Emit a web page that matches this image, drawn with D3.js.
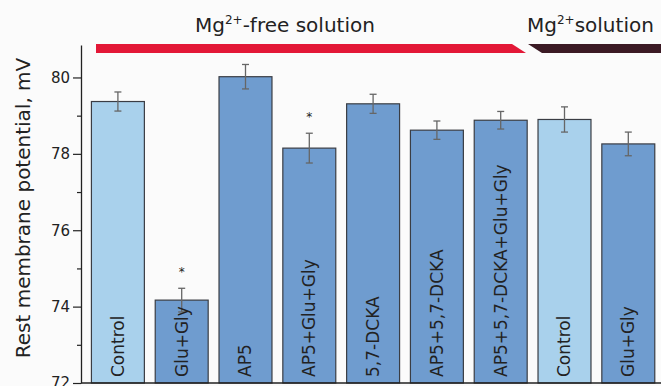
<!DOCTYPE html>
<html>
<head>
<meta charset="utf-8">
<script src="https://cdn.jsdelivr.net/npm/d3@7"></script>
<style>
    body { margin: 0; background: #fbfbfb; }
    svg { display: block; font-family: "DejaVu Sans", sans-serif; }
</style>
</head>
<body>
<div id="chart"></div>
<script>
const categories = ['Control', 'Glu+Gly', 'AP5', 'AP5+Glu+Gly', '5,7-DCKA', 'AP5+5,7-DCKA',
    'AP5+5,7-DCKA+Glu+Gly', 'Control', 'Glu+Gly'];
const values = [79.37, 74.17, 80.02, 78.15, 79.31, 78.62, 78.88, 78.90, 78.26];
const errors = [0.25, 0.31, 0.32, 0.39, 0.25, 0.24, 0.23, 0.33, 0.31];
const isControl = [true, false, false, false, false, false, false, true, false];
const significant = [false, true, false, true, false, false, false, false, false];
const yTicks = [72, 74, 76, 78, 80];
const yMinorTicks = [73, 75, 77, 79];

const width = 661, height = 386;
const margin = { top: 45, left: 81, bottom: 3 };

const svg = d3.select('#chart').append('svg')
    .attr('width', width)
    .attr('height', height);

const y = d3.scaleLinear()
    .domain([72, 80.85])
    .range([height - margin.bottom, margin.top]);

// band positions: first bar starts at 96, step ~63.8
const x = d3.scaleBand()
    .domain(d3.range(categories.length))
    .range([86, 86 + 63.8 * categories.length])
    .paddingInner(0.17)
    .paddingOuter(0.085);

// banner
const bannerTop = 44, bannerBot = 53;
svg.append('polygon')
    .attr('points', `96,${bannerTop} 512,${bannerTop} 526,${bannerBot} 96,${bannerBot}`)
    .attr('fill', '#e31837');
svg.append('polygon')
    .attr('points', `528,${bannerTop} ${width},${bannerTop} ${width},${bannerBot} 542,${bannerBot}`)
    .attr('fill', '#3b1a24');

function banner(xPos, rest) {
    const t = svg.append('text')
        .attr('x', xPos).attr('y', 32)
        .style('font-size', '20px').attr('fill', '#222');
    t.append('tspan').text('Mg');
    t.append('tspan').text('2+').attr('dy', -8).style('font-size', '12px');
    t.append('tspan').text(rest).attr('dy', 8);
}
banner(195, '-free solution');
banner(527, 'solution');

// bars
svg.selectAll('.bar')
    .data(values)
    .enter().append('rect')
    .attr('class', 'bar')
    .attr('x', (d, i) => x(i))
    .attr('y', d => y(d))
    .attr('width', x.bandwidth())
    .attr('height', d => y(72) - y(d))
    .attr('fill', (d, i) => isControl[i] ? '#a9d1ec' : '#6f9ccf')
    .attr('stroke', '#3a3d44')
    .attr('stroke-width', 1.2);

// error bars
const err = svg.selectAll('.err')
    .data(values)
    .enter().append('g')
    .attr('class', 'err')
    .attr('stroke', '#666')
    .attr('stroke-width', 1.3);
err.append('line')
    .attr('x1', (d, i) => x(i) + x.bandwidth() / 2)
    .attr('x2', (d, i) => x(i) + x.bandwidth() / 2)
    .attr('y1', (d, i) => y(d + errors[i]))
    .attr('y2', (d, i) => y(d - errors[i]));
[1, -1].forEach(s => {
    err.append('line')
        .attr('x1', (d, i) => x(i) + x.bandwidth() / 2 - 3.5)
        .attr('x2', (d, i) => x(i) + x.bandwidth() / 2 + 3.5)
        .attr('y1', (d, i) => y(d + s * errors[i]))
        .attr('y2', (d, i) => y(d + s * errors[i]));
});

// significance stars
const starIdx = d3.range(values.length).filter(i => significant[i]);
svg.selectAll('.star')
    .data(starIdx)
    .enter().append('text')
    .attr('class', 'star')
    .attr('x', i => x(i) + x.bandwidth() / 2)
    .attr('y', i => y(values[i] + errors[i]) - 12)
    .attr('text-anchor', 'middle')
    .style('font-size', '12px')
    .attr('fill', '#222')
    .text('*');

// bar labels
svg.selectAll('.bar-label')
    .data(categories)
    .enter().append('text')
    .attr('class', 'bar-label')
    .attr('transform', (d, i) => `translate(${x(i) + x.bandwidth() / 2},377) rotate(-90)`)
    .attr('dy', '0.35em')
    .style('font-size', '17px')
    .attr('fill', '#222')
    .text(d => d);

// y axis
const yAxis = d3.axisLeft(y)
    .tickValues(yTicks)
    .tickSize(8)
    .tickSizeOuter(0)
    .tickPadding(3);
const yAxisG = svg.append('g')
    .attr('transform', `translate(${margin.left},0)`)
    .call(yAxis);
yAxisG.selectAll('text').style('font-size', '15px').style('font-family', '"DejaVu Sans", sans-serif').attr('fill', '#222');
yAxisG.select('.domain').attr('stroke', '#222').attr('stroke-width', 1.3);
yAxisG.selectAll('.tick line').attr('stroke', '#222').attr('stroke-width', 1.2);

const yMinor = svg.append('g')
    .attr('transform', `translate(${margin.left},0)`)
    .call(d3.axisLeft(y).tickValues(yMinorTicks).tickSize(4).tickFormat('').tickSizeOuter(0));
yMinor.select('.domain').remove();
yMinor.selectAll('.tick line').attr('stroke', '#222').attr('stroke-width', 1.2);

// x baseline
svg.append('line')
    .attr('x1', margin.left).attr('x2', width)
    .attr('y1', y(72)).attr('y2', y(72))
    .attr('stroke', '#222').attr('stroke-width', 1.3);

// y label
svg.append('text')
    .attr('transform', `translate(23,208) rotate(-90)`)
    .attr('text-anchor', 'middle')
    .attr('dy', '0.35em')
    .style('font-size', '20px')
    .attr('fill', '#222')
    .text('Rest membrane potential, mV');
</script>
</body>
</html>
